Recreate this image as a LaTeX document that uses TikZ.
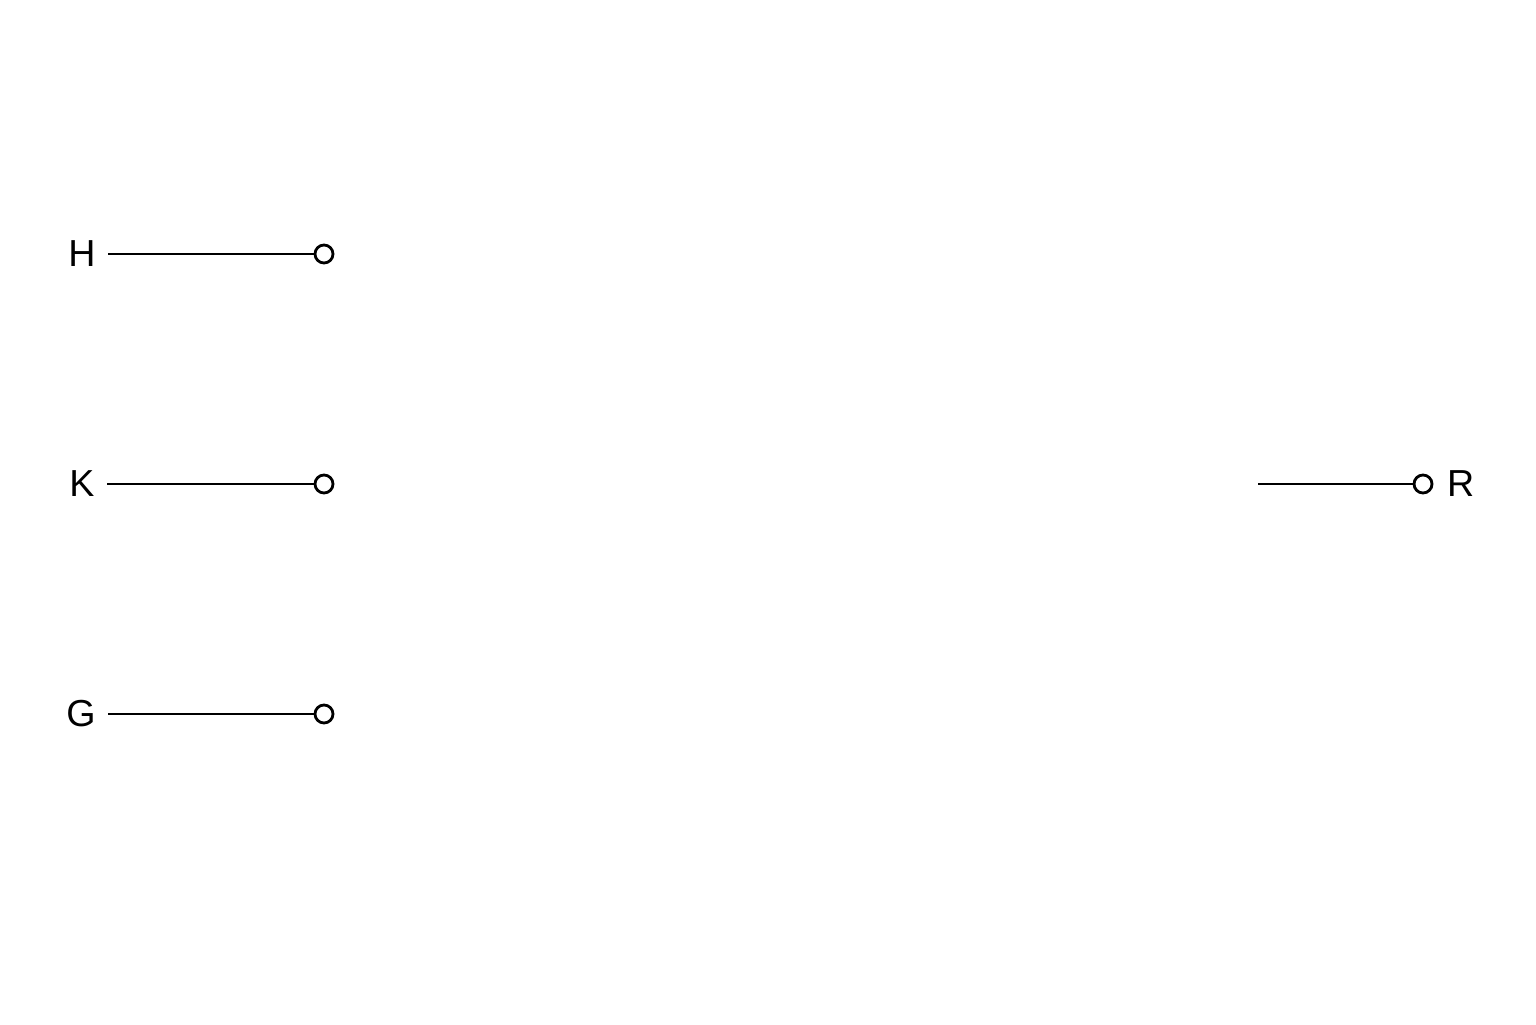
\documentclass[tikz,border=0pt]{standalone}
\usepackage{fontspec}
\setmainfont{Liberation Sans}
\usetikzlibrary{positioning}
\tikzset{
    port label/.style={font=\fontsize{10.7}{12}\selectfont, inner sep=0.12cm},
    port end/.style={circle, draw, thick, fill=white, inner sep=0pt, minimum size=0.18cm},
    port wire/.style={draw, line width=0.7pt}
}
\begin{document}
\begin{tikzpicture}
	\useasboundingbox (0,0) rectangle (15.36,10.24);
	% input terminals
	\node[port end] (hend) at (3.24,7.70) {};
	\node[port end] (kend) at (3.24,5.40) {};
	\node[port end] (gend) at (3.24,3.10) {};
	\node[port label] (hlab) at (0.82,7.70) {H};
	\node[port label] (klab) at (0.82,5.40) {K};
	\node[port label] (glab) at (0.81,3.10) {G};
	\path[port wire] (hlab) -- (hend);
	\path[port wire] (klab) -- (kend);
	\path[port wire] (glab) -- (gend);
	% output terminal
	\node[port end] (rend) at (14.23,5.40) {};
	\node[port label, right=0.01cm of rend] (rlab) {R};
	\coordinate (rfree) at (12.58,5.40);
	\path[port wire] (rfree) -- (rend);
\end{tikzpicture}
\end{document}
